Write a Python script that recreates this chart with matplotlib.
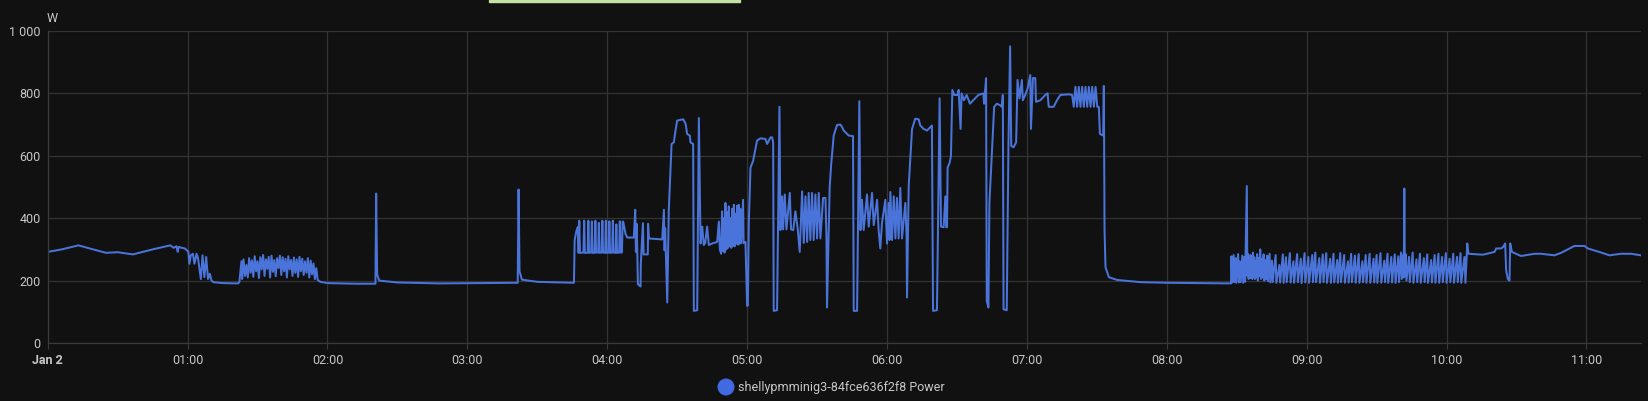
import numpy as np
import matplotlib.pyplot as plt
from matplotlib.patches import Rectangle, Ellipse

# hours since midnight (Jan 2), watts
idle_night = [(0, 292), (0.1, 300), (0.22, 313), (0.3, 303), (0.417, 289), (0.5, 291),
              (0.609, 284), (0.75, 300), (0.877, 313), (0.9, 305), (0.92, 310), (0.93, 292),
              (0.935, 308), (0.95, 306), (0.98, 303)]
first_wobble = [(1.005, 293), (1.013, 254), (1.023, 281), (1.038, 286), (1.049, 254),
                (1.064, 286), (1.074, 273), (1.087, 232), (1.095, 205), (1.107, 281),
                (1.12, 211), (1.133, 276), (1.146, 205), (1.159, 222), (1.171, 200),
                (1.184, 195), (1.25, 192), (1.36, 191)]
band_130 = [(1.37, 195), (1.385, 262), (1.39, 205), (1.40, 268), (1.41, 215), (1.42, 250),
            (1.43, 210), (1.44, 272), (1.45, 225), (1.46, 265), (1.47, 212), (1.48, 278),
            (1.49, 230), (1.50, 262), (1.51, 208), (1.52, 275), (1.53, 236), (1.54, 282),
            (1.55, 215), (1.56, 268), (1.57, 238), (1.58, 276), (1.59, 210), (1.60, 280),
            (1.61, 228), (1.62, 266), (1.63, 214), (1.64, 272), (1.65, 240), (1.66, 280),
            (1.67, 218), (1.68, 275), (1.69, 230), (1.70, 270), (1.71, 210), (1.72, 278),
            (1.73, 236), (1.74, 266), (1.75, 215), (1.76, 274), (1.77, 225), (1.78, 268),
            (1.79, 212), (1.80, 276), (1.81, 230), (1.82, 270), (1.83, 218), (1.84, 262),
            (1.85, 225), (1.86, 272), (1.87, 210), (1.88, 264), (1.89, 220), (1.90, 255),
            (1.91, 205), (1.92, 240), (1.93, 202), (1.95, 196)]
quiet_2_to_4 = [(2.0, 192), (2.2, 190), (2.343, 190), (2.348, 479), (2.355, 220), (2.37, 200),
                (2.5, 194), (2.8, 191), (3.1, 192), (3.36, 193), (3.366, 492), (3.373, 230),
                (3.39, 203), (3.5, 196), (3.762, 193)]
startup = [(3.767, 330), (3.78, 360), (3.79, 372), (3.795, 289), (3.80, 392), (3.805, 289),
           (3.83, 290), (3.835, 392), (3.84, 289), (3.86, 289), (3.865, 392), (3.87, 289),
           (3.885, 290), (3.89, 390), (3.895, 289), (3.91, 289), (3.915, 392), (3.92, 290),
           (3.935, 290), (3.94, 385), (3.945, 289), (3.96, 290), (3.965, 392), (3.97, 290),
           (3.985, 289), (3.99, 392), (3.995, 289), (4.01, 290), (4.015, 390), (4.02, 289),
           (4.035, 290), (4.04, 392), (4.045, 290), (4.06, 289), (4.065, 380), (4.07, 289),
           (4.085, 290), (4.09, 390), (4.095, 290), (4.105, 290), (4.11, 389), (4.114, 389),
           (4.131, 349), (4.143, 338), (4.19, 338), (4.2, 427), (4.205, 292), (4.21, 382),
           (4.215, 290), (4.219, 189), (4.238, 181), (4.24, 254), (4.255, 384), (4.26, 284),
           (4.29, 284), (4.292, 382), (4.298, 335), (4.393, 332), (4.405, 427), (4.41, 297),
           (4.414, 368), (4.429, 130), (4.44, 427)]
cycle_1 = [(4.46, 638), (4.476, 643), (4.488, 681), (4.50, 713), (4.543, 717), (4.56, 703),
           (4.571, 670), (4.59, 665), (4.595, 643), (4.614, 638), (4.619, 103), (4.643, 105),
           (4.655, 721), (4.667, 319), (4.679, 373), (4.69, 314), (4.70, 320), (4.714, 373),
           (4.726, 314), (4.75, 319), (4.786, 324), (4.798, 389), (4.805, 300), (4.814, 286),
           (4.821, 422), (4.827, 295), (4.833, 400), (4.839, 290), (4.845, 449), (4.851, 300),
           (4.857, 420), (4.863, 305), (4.869, 438), (4.875, 310), (4.881, 400), (4.887, 305),
           (4.893, 430), (4.899, 312), (4.905, 443), (4.911, 310), (4.917, 415), (4.923, 318),
           (4.929, 440), (4.935, 315), (4.94, 443), (4.946, 318), (4.952, 430), (4.958, 320),
           (4.971, 459), (4.975, 320), (4.988, 324), (5.0, 119)]
cycle_2 = [(5.005, 120), (5.012, 384), (5.024, 562), (5.043, 584), (5.071, 649), (5.095, 656),
           (5.131, 654), (5.143, 638), (5.167, 659), (5.179, 659), (5.186, 643), (5.19, 103),
           (5.214, 105), (5.231, 757), (5.238, 362), (5.25, 470), (5.257, 364), (5.269, 476),
           (5.281, 364), (5.305, 481), (5.314, 364), (5.33, 362), (5.345, 422), (5.362, 364),
           (5.376, 292), (5.393, 486), (5.405, 321), (5.417, 470), (5.429, 324), (5.44, 481),
           (5.452, 330), (5.464, 481), (5.476, 330), (5.488, 476), (5.5, 335), (5.512, 481),
           (5.524, 335), (5.543, 465), (5.56, 465), (5.567, 341), (5.571, 114)]
cycle_3 = [(5.59, 497), (5.60, 568), (5.619, 665), (5.643, 699), (5.667, 700), (5.679, 692),
           (5.69, 681), (5.726, 665), (5.757, 663), (5.762, 103), (5.786, 103), (5.802, 775),
           (5.81, 362), (5.821, 459), (5.833, 362), (5.857, 476), (5.869, 373), (5.893, 481),
           (5.905, 378), (5.929, 459), (5.94, 362), (5.952, 303), (5.964, 384), (5.988, 459),
           (6.0, 319), (6.012, 449), (6.018, 330), (6.024, 484), (6.036, 330), (6.048, 470),
           (6.06, 335), (6.071, 465), (6.083, 335), (6.095, 497), (6.107, 335), (6.131, 449),
           (6.14, 340), (6.143, 146)]
cycle_4 = [(6.155, 503), (6.179, 686), (6.202, 719), (6.226, 717), (6.238, 697), (6.262, 686),
           (6.286, 681), (6.31, 692), (6.321, 697), (6.329, 103), (6.357, 105), (6.376, 784),
           (6.386, 373), (6.405, 371), (6.417, 470), (6.423, 371), (6.429, 371), (6.433, 562),
           (6.448, 578), (6.457, 600), (6.467, 811), (6.481, 795), (6.505, 795), (6.512, 811)]
full_load = [(6.526, 686), (6.533, 800), (6.55, 778), (6.569, 795), (6.593, 767), (6.617, 778),
             (6.653, 795), (6.689, 800), (6.694, 767), (6.708, 849), (6.713, 135), (6.725, 114),
             (6.732, 449), (6.749, 600), (6.766, 757), (6.785, 767), (6.809, 762), (6.821, 757),
             (6.828, 795), (6.833, 108), (6.856, 105), (6.868, 632), (6.88, 951), (6.888, 632),
             (6.904, 627), (6.923, 643), (6.933, 843), (6.947, 784), (6.964, 843), (6.971, 778),
             (6.988, 795), (7.005, 816), (7.024, 859), (7.029, 686), (7.043, 849), (7.06, 849),
             (7.065, 773), (7.096, 778), (7.132, 795), (7.148, 800), (7.156, 757), (7.191, 757),
             (7.215, 778), (7.239, 795), (7.299, 797), (7.323, 795), (7.335, 757), (7.347, 821),
             (7.359, 757), (7.371, 821), (7.383, 757), (7.395, 821), (7.407, 757), (7.419, 821),
             (7.431, 757), (7.443, 821), (7.455, 757), (7.467, 821), (7.479, 757), (7.491, 821),
             (7.503, 757), (7.514, 757), (7.522, 670), (7.545, 665), (7.55, 824), (7.555, 362),
             (7.562, 243), (7.586, 211), (7.646, 202), (7.813, 195), (8.0, 193), (8.2, 192),
             (8.459, 191)]
band_morning = [
    (8.462, 278), (8.468, 194), (8.478, 282), (8.483, 195), (8.492, 272), (8.497, 193),
    (8.510, 285), (8.515, 194), (8.522, 262), (8.528, 195), (8.540, 280), (8.546, 193),
    (8.555, 276), (8.560, 196), (8.572, 503), (8.576, 215), (8.581, 285), (8.585, 205),
    (8.590, 270), (8.594, 208), (8.598, 282), (8.602, 210), (8.607, 268), (8.611, 205),
    (8.616, 290), (8.620, 212), (8.626, 275), (8.630, 205), (8.635, 262), (8.640, 210),
    (8.646, 285), (8.651, 200), (8.658, 272), (8.663, 215), (8.668, 300), (8.673, 205),
    (8.680, 270), (8.685, 210), (8.692, 284), (8.697, 200), (8.705, 266), (8.710, 205),
    (8.718, 280), (8.723, 198), (8.735, 286), (8.740, 194),
    (8.752, 264), (8.757, 195), (8.778, 282), (8.783, 193), (8.805, 250), (8.810, 194),
    (8.830, 284), (8.835, 193), (8.852, 275), (8.857, 195), (8.880, 288), (8.885, 194),
    (8.905, 262), (8.910, 193), (8.932, 285), (8.937, 195), (8.958, 270), (8.963, 192),
    (8.985, 288), (8.990, 194), (9.012, 276), (9.017, 193), (9.040, 282), (9.045, 195),
    (9.062, 290), (9.067, 195), (9.090, 272), (9.095, 193), (9.115, 284), (9.120, 195),
    (9.140, 288), (9.145, 193), (9.168, 270), (9.173, 193), (9.192, 286), (9.197, 194),
    (9.218, 266), (9.223, 193), (9.240, 288), (9.245, 195), (9.268, 282), (9.273, 193),
    (9.295, 262), (9.300, 194), (9.318, 286), (9.323, 195), (9.345, 280), (9.350, 193),
    (9.372, 285), (9.377, 193), (9.398, 262), (9.403, 195), (9.422, 282), (9.427, 193),
    (9.450, 286), (9.455, 193), (9.478, 270), (9.483, 194), (9.500, 282), (9.505, 193),
    (9.528, 288), (9.533, 193), (9.555, 264), (9.560, 195), (9.578, 286), (9.583, 193),
    (9.605, 276), (9.610, 194), (9.630, 284), (9.635, 193), (9.655, 278), (9.660, 195),
    (9.675, 290), (9.680, 205), (9.690, 282), (9.694, 210), (9.698, 495), (9.702, 215),
    (9.708, 285), (9.713, 200), (9.732, 276), (9.737, 195), (9.758, 290), (9.763, 193),
    (9.785, 268), (9.790, 195), (9.810, 286), (9.815, 193), (9.838, 272), (9.843, 195),
    (9.862, 284), (9.867, 193), (9.890, 266), (9.895, 194), (9.915, 282), (9.920, 193),
    (9.942, 286), (9.947, 193), (9.968, 276), (9.973, 195), (9.995, 288), (10.000, 193),
    (10.022, 270), (10.027, 195), (10.048, 286), (10.053, 193), (10.075, 276), (10.080, 195),
    (10.100, 288), (10.105, 193), (10.128, 276), (10.135, 193)]
idle_late = [(10.148, 319), (10.157, 286), (10.26, 283), (10.343, 292), (10.355, 303),
             (10.39, 303), (10.405, 308), (10.419, 319), (10.426, 232), (10.438, 205),
             (10.45, 200), (10.455, 319), (10.467, 292), (10.521, 281), (10.533, 279),
             (10.629, 286), (10.676, 286), (10.771, 281), (10.819, 289), (10.914, 311),
             (10.986, 311), (11.01, 303), (11.105, 290), (11.164, 281), (11.248, 286),
             (11.319, 286), (11.39, 281)]

segments = [idle_night, first_wobble, band_130, quiet_2_to_4, startup, cycle_1, cycle_2,
            cycle_3, cycle_4, full_load, band_morning, idle_late]
hours, watts = zip(*[p for seg in segments for p in seg])

tick_hours = list(range(12))
tick_labels = ["Jan 2"] + ["%02d:00" % h for h in range(1, 12)]
y_ticks = [0, 200, 400, 600, 800, 1000]
y_labels = ["0", "200", "400", "600", "800", "1 000"]

bg = "#111111"
line_blue = "#4a74d9"
text_col = "#c8c8c8"
plt.rcParams["font.family"] = ["Roboto", "DejaVu Sans"]

W, H = 1649, 401
fig = plt.figure(figsize=(W / 100, H / 100), dpi=100, facecolor=bg)
ax = fig.add_axes([47.7 / W, 58 / H, (1641 - 47.7) / W, 312 / H])
ax.set_facecolor(bg)

ax.plot(hours, watts, color=line_blue, lw=1.45)

ax.set_xlim(0, 11.39)
ax.set_ylim(0, 1000)
ax.set_xticks(tick_hours)
ax.set_xticklabels(tick_labels)
ax.get_xticklabels()[0].set_fontweight("bold")
ax.get_xticklabels()[0].set_color("#e6e6e6")
ax.set_yticks(y_ticks)
ax.set_yticklabels(y_labels)
ax.tick_params(axis="x", colors="#3a3a3a", labelcolor=text_col, labelsize=9, length=4, pad=4)
ax.tick_params(axis="y", colors="#3a3a3a", labelcolor=text_col, labelsize=9, length=0, pad=5)
ax.grid(True, color="#333333", lw=0.9)
ax.set_axisbelow(True)
for side in ["top", "right"]:
    ax.spines[side].set_visible(False)
for side in ["left", "bottom"]:
    ax.spines[side].set_color("#3a3a3a")
    ax.spines[side].set_linewidth(0.9)

fig.text(47 / W, 1 - 18 / H, "W", color=text_col, fontsize=9, va="center", ha="left")

# legend: filled dot + series name
fig.patches.append(Ellipse((726 / W, 1 - 387 / H), 15.6 / W, 15.6 / H,
                           transform=fig.transFigure, color="#4169e1"))
fig.text(738 / W, 1 - 387 / H, "shellypmminig3-84fce636f2f8 Power", color=text_col,
         fontsize=9, ha="left", va="center")

# green bar peeking in at the top edge
fig.patches.append(Rectangle((489 / W, 1 - 1.5 / H), (740 - 489) / W, 1.5 / H,
                             transform=fig.transFigure, color="#c5e1a5", zorder=5))

plt.savefig("out.png", dpi=100, facecolor=bg)
